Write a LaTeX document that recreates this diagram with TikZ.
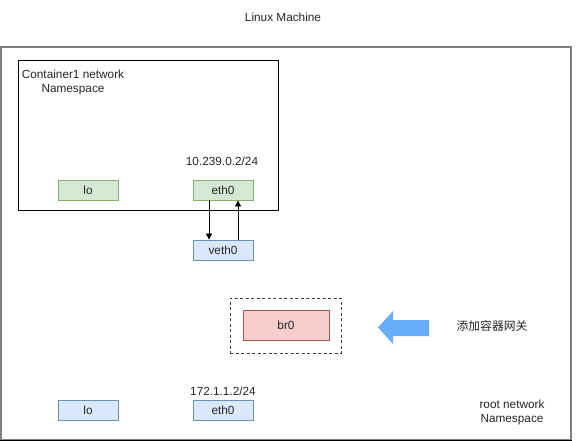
\documentclass[tikz,border=0pt]{standalone}
\usepackage{fontspec}
\setmainfont{Liberation Sans}
\newfontfamily\cjkfont{Noto Sans CJK SC}
\usetikzlibrary{arrows.meta}
\definecolor{greenfill}{HTML}{D5E8D4}
\definecolor{greenline}{HTML}{82B366}
\definecolor{bluefill}{HTML}{DAE8FC}
\definecolor{blueline}{HTML}{6C8EBF}
\definecolor{redfill}{HTML}{F8CECC}
\definecolor{redline}{HTML}{B85450}
\definecolor{outergray}{HTML}{808080}
\definecolor{arrowblue}{HTML}{66AEF8}
\begin{document}
\begin{tikzpicture}[x=1pt,y=-1pt,
  every node/.style={font=\fontsize{11.8}{14}\selectfont, text=black!85, inner sep=0pt},
  ifbox/.style={draw, line width=0.8pt, minimum width=60pt, minimum height=20pt},
  gbox/.style={ifbox, fill=greenfill, draw=greenline},
  bbox/.style={ifbox, fill=bluefill, draw=blueline},
  rbox/.style={draw=redline, fill=redfill, line width=0.8pt, minimum width=86pt, minimum height=30pt},
  conn/.style={line width=0.8pt, -{Triangle[length=6pt,width=6pt]}},
  lbl/.style={align=center}
]
\useasboundingbox (0,0) rectangle (579,441);
% outer machine box
\node[draw=outergray, line width=2pt, minimum width=570pt, minimum height=393pt] (machine) at (286,243.5) {};
\draw[line width=1.5pt, black] (machine.south west) -- (machine.south east);
\node[lbl] (machinelbl) at (283,17) {Linux Machine};
% container namespace
\node[draw, line width=1pt, minimum width=260pt, minimum height=150pt] (container) at (148,135.5) {};
\node[lbl] (containerlbl) at (73,82) {Container1 network\\Namespace};
\node[lbl] (ip1) at (222,161) {10.239.0.2/24};
\node[gbox] (clo) at (88,190) {lo};
\node[gbox] (ceth) at (223,190) {eth0};
% veth
\node[bbox] (veth) at (223,250) {veth0};
\draw[conn] ([xshift=-14pt]ceth.south) -- ([xshift=-14pt]veth.north);
\draw[conn] ([xshift=15pt]veth.north) -- ([xshift=15pt]ceth.south);
% bridge
\node[draw, dashed, dash pattern=on 3pt off 2.5pt, line width=1pt, draw=black!75, minimum width=111pt, minimum height=55pt] (brgroup) at (285.5,325.5) {};
\node[rbox] (br) at (286,325) {br0};
% blue block arrow
\fill[arrowblue] (378,327.5) -- (393,311) -- (393,320) -- (429,320) -- (429,336) -- (393,336) -- (393,344) -- cycle;
\node[lbl] (gwlbl) at (492,326) {\cjkfont 添加容器网关};
% root namespace
\node[lbl] (ip2) at (223,391) {172.1.1.2/24};
\node[bbox] (rlo) at (88,410) {lo};
\node[bbox] (reth) at (223,410) {eth0};
\node[lbl] (rootlbl) at (512,412) {root network\\Namespace};
\end{tikzpicture}
\end{document}
